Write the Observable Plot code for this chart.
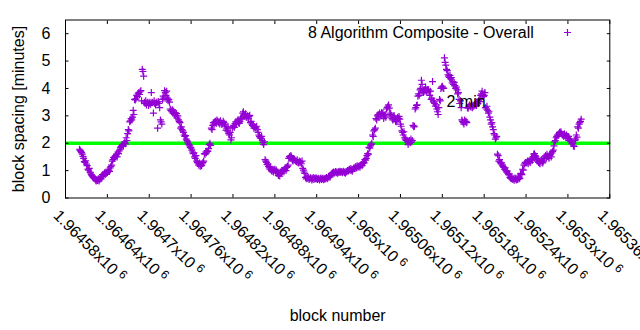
<!DOCTYPE html>
<html>
<head>
<meta charset="utf-8">
<script src="https://cdn.jsdelivr.net/npm/d3@7"></script>
<script src="https://cdn.jsdelivr.net/npm/@observablehq/plot@0.6"></script>
<style>
  html, body { margin: 0; padding: 0; background: white; overflow: hidden; }
</style>
</head>
<body>
<div id="chart"></div>
<script>
// ---- data ----
const seriesName = "8 Algorithm Composite - Overall";
const firstBlock = 1964600; // block number of first sample; one sample per consecutive block
const spacing = [
  1.78,1.74,1.7,1.66,1.6,1.52,1.45,1.33,1.3,1.36,1.24,1.18,1.05,1.02,1.08,0.95,0.92,0.85,0.82,0.78,
  0.75,0.72,0.7,0.66,0.62,0.68,0.64,0.7,0.62,0.67,0.72,0.7,0.78,0.85,0.82,0.88,0.92,0.86,0.95,0.9,
  0.93,0.98,1.02,0.97,1.1,1.15,1.2,1.35,1.4,1.48,1.45,1.52,1.55,1.6,1.5,1.68,1.62,1.72,1.78,1.85,
  1.88,1.92,1.95,1.9,2.0,2.05,1.98,2.2,2.1,2.35,2.5,2.45,2.78,2.82,2.9,2.85,2.95,3.2,3.05,3.6,
  3.58,3.62,3.75,3.7,3.8,3.85,3.78,3.88,3.92,3.55,4.7,4.62,4.45,3.5,3.45,3.55,3.4,3.48,3.5,3.38,
  3.45,3.5,3.42,3.85,3.5,3.48,3.1,3.55,3.45,3.4,3.5,3.48,2.55,3.52,3.45,3.3,2.85,2.78,2.7,3.6,
  3.72,3.65,3.92,3.85,3.75,3.9,3.65,3.55,3.6,3.5,3.25,3.2,3.15,3.22,3.1,3.18,3.05,3.12,3.0,3.08,
  2.92,3.0,2.85,2.8,2.75,2.55,2.6,2.5,2.45,2.4,2.3,2.25,2.28,2.15,2.1,2.05,2.0,1.95,1.9,1.85,
  1.82,1.75,1.68,1.62,1.65,1.5,1.45,1.55,1.35,1.3,1.25,1.2,1.28,1.15,1.22,1.18,1.25,1.3,1.35,1.62,
  1.6,1.68,1.65,1.72,1.7,1.8,1.95,2.0,1.92,2.55,2.5,2.65,2.75,2.7,2.78,2.8,2.72,2.85,2.8,2.75,
  2.78,2.7,2.82,2.75,2.68,2.72,2.8,2.75,2.7,2.62,2.48,2.55,2.45,2.6,2.35,2.3,2.4,2.12,2.2,2.55,
  2.6,2.65,2.58,2.72,2.78,2.7,2.8,2.85,2.75,2.72,2.8,2.9,2.95,2.88,3.1,3.15,3.05,3.0,3.08,2.95,
  2.95,3.0,2.92,2.98,3.02,2.75,2.8,2.7,2.65,2.62,2.55,2.6,2.58,2.55,2.62,2.5,2.4,2.3,2.25,2.2,
  2.18,2.25,2.1,2.02,1.95,2.05,1.4,1.35,1.3,1.22,1.25,1.15,1.1,1.05,1.12,1.0,0.98,1.05,0.95,1.02,
  1.05,0.98,1.02,0.92,0.95,0.82,0.88,0.8,0.95,0.9,1.0,0.97,1.02,0.96,1.05,1.1,1.0,1.12,1.15,1.2,
  1.45,1.52,1.48,1.55,1.5,1.38,1.35,1.42,1.4,1.38,1.35,1.32,1.4,1.3,1.28,1.35,1.3,1.32,1.25,1.35,
  1.08,1.02,0.95,0.9,0.75,0.7,0.78,0.72,0.75,0.68,0.7,0.74,0.72,0.66,0.7,0.75,0.68,0.72,0.7,0.74,
  0.7,0.68,0.72,0.7,0.66,0.7,0.73,0.68,0.7,0.72,0.67,0.7,0.69,0.72,0.75,0.7,0.73,0.78,0.8,0.76,
  0.82,0.88,0.9,0.92,0.95,0.9,0.93,0.97,0.92,0.95,0.9,0.96,0.93,0.98,0.94,0.97,0.95,0.92,0.98,0.96,
  0.93,0.9,0.97,0.95,1.0,0.98,1.02,1.05,1.0,1.08,1.02,0.98,1.05,1.1,1.08,1.12,1.15,1.1,1.18,1.12,
  1.15,1.18,1.12,1.2,1.22,1.18,1.25,1.3,1.28,1.4,1.38,1.45,1.55,1.62,1.6,1.85,1.82,1.9,1.95,2.0,
  2.3,2.25,2.45,2.5,2.55,2.9,2.85,3.0,3.05,2.95,3.1,3.05,3.0,3.12,3.08,3.1,2.9,3.0,3.05,2.95,
  3.25,3.3,3.35,3.4,3.28,3.05,3.1,3.0,2.9,2.85,2.95,3.0,2.92,2.8,2.78,2.85,2.95,2.9,2.98,2.88,
  2.7,2.62,2.45,2.4,2.3,2.42,2.2,2.15,2.1,2.12,2.05,1.95,2.08,2.1,2.02,2.15,2.05,2.1,2.65,2.6,
  2.62,3.25,3.3,3.38,3.4,3.72,3.8,3.75,3.95,4.0,4.3,4.15,3.9,3.85,3.95,3.9,4.05,3.92,3.88,3.95,
  3.95,3.88,3.75,3.9,3.6,3.65,4.25,3.55,3.5,3.45,3.35,3.4,3.25,3.15,3.05,3.3,3.6,3.55,4.0,4.05,
  4.08,4.02,4.0,5.12,4.95,4.85,4.7,4.65,4.5,4.45,4.4,4.48,4.35,4.4,4.2,4.25,4.15,4.22,4.1,4.0,
  4.05,3.95,3.8,3.85,3.6,3.45,3.55,3.3,2.85,2.8,2.75,2.7,2.85,2.78,2.8,2.75,3.3,3.28,3.35,3.4,
  3.35,3.32,3.4,3.3,3.38,3.35,3.42,3.4,3.45,3.38,3.5,3.45,3.55,3.6,3.52,3.75,3.8,3.9,3.78,3.7,
  3.75,3.85,3.3,3.25,3.35,3.2,3.1,3.15,2.95,2.85,2.7,2.75,2.6,2.5,2.35,2.3,2.15,2.2,2.25,1.6,
  1.55,1.35,1.4,1.3,1.25,1.28,1.2,1.15,1.12,1.05,1.1,1.0,0.95,0.98,0.9,0.85,0.88,0.75,0.72,0.7,
  0.72,0.68,0.7,0.65,0.73,0.7,0.66,0.72,0.68,0.75,0.7,0.72,0.88,0.9,0.85,1.05,1.02,1.2,1.25,1.3,
  1.28,1.3,1.35,1.25,1.32,1.35,1.3,1.4,1.45,1.38,1.5,1.6,1.62,1.55,1.5,1.45,1.35,1.4,1.3,1.28,
  1.25,1.35,1.4,1.3,1.28,1.35,1.45,1.5,1.55,1.48,1.6,1.52,1.5,1.45,1.55,1.6,1.5,1.65,1.7,1.75,
  1.9,2.05,2.1,2.2,2.25,2.3,2.28,2.35,2.4,2.38,2.42,2.35,2.3,2.32,2.25,2.35,2.28,2.2,2.3,2.22,
  2.18,2.25,2.1,2.15,2.08,2.05,1.98,2.0,1.9,1.88,2.1,2.15,2.3,2.22,2.6,2.55,2.7,2.75,2.8,2.88
];
const xTicks = [1964580,1964640,1964700,1964760,1964820,1964880,1964940,1965000,1965060,1965120,1965180,1965240,1965300,1965360];
const xTickLabels = ["1.96458","1.96464","1.9647","1.96476","1.96482","1.96488","1.96494","1.965","1.96506","1.96512","1.96518","1.96524","1.9653","1.96536"];
const xTickExponent = "6";
const yTicks = [0,1,2,3,4,5,6];
const refLevel = 2;
const refLabel = "2 min";
const refLabelBlock = 1965126;
const refLabelValue = 3.5;
const xTitle = "block number";
const yTitle = "block spacing [minutes]";

// ---- build ----
const points = spacing.map((v, i) => ({block: firstBlock + i, v}));
const PURPLE = "#9400d3";
const GREEN = "#00ff00";

const plusSymbol = {
  draw(ctx, size) {
    const r = Math.sqrt(size / Math.PI);
    ctx.moveTo(-r, 0); ctx.lineTo(r, 0);
    ctx.moveTo(0, -r); ctx.lineTo(0, r);
  }
};

const TICK = 3.5;
const chart = Plot.plot({
  width: 640,
  height: 330,
  marginLeft: 65,
  marginRight: 30.7,
  marginTop: 19.5,
  marginBottom: 132.5,
  style: {fontFamily: "'Liberation Sans', Arial, sans-serif", fontSize: "16px", background: "white", color: "black"},
  x: {domain: [1964580, 1965360], axis: null},
  y: {domain: [0, 6.5], axis: null},
  marks: [
    Plot.ruleY([refLevel], {stroke: GREEN, strokeWidth: 3.5}),
    Plot.dot(points, {x: "block", y: "v", symbol: plusSymbol, r: 3.5, stroke: PURPLE, fill: "none", strokeWidth: 1.2}),
    Plot.frame({stroke: "black", strokeWidth: 1}),
    // inward ticks on all four sides
    Plot.axisX(xTicks, {anchor: "bottom", tickSize: TICK, dy: -TICK, tickFormat: () => "", stroke: "black", label: null}),
    Plot.axisX(xTicks, {anchor: "top", tickSize: TICK, dy: TICK, tickFormat: () => "", stroke: "black", label: null}),
    Plot.axisY(yTicks, {anchor: "left", tickSize: TICK, dx: TICK, tickFormat: () => "", stroke: "black", label: null}),
    Plot.axisY(yTicks, {anchor: "right", tickSize: TICK, dx: -TICK, tickFormat: () => "", stroke: "black", label: null}),
    // tick labels
    Plot.axisY(yTicks, {anchor: "left", tickSize: 0, tickPadding: 15, tickFormat: d => String(d), fill: "black", label: null}),
    Plot.axisX(xTicks, {anchor: "bottom", tickSize: 0, tickPadding: 10.5, tickRotate: 45, textAnchor: "start", lineAnchor: "top", dx: -5,
      tickFormat: d => xTickLabels[xTicks.indexOf(d)] + "x10", fill: "black", label: null}),
    // axis titles
    Plot.text([yTitle], {frameAnchor: "left", dx: -47, rotate: -90, textAnchor: "middle", lineAnchor: "middle", text: d => d, fill: "black"}),
    Plot.text([xTitle], {frameAnchor: "bottom", dy: 117.5, textAnchor: "middle", lineAnchor: "middle", text: d => d, fill: "black"}),
    // key
    Plot.text([seriesName], {frameAnchor: "top-right", dx: -76, dy: 12.5, textAnchor: "end", lineAnchor: "middle", text: d => d, fill: "black"}),
    Plot.dot([seriesName], {frameAnchor: "top-right", dx: -42.3, dy: 12.5, symbol: plusSymbol, r: 3.5, stroke: PURPLE, fill: "none", strokeWidth: 1.2}),
    // reference label
    Plot.text([{block: refLabelBlock, v: refLabelValue, t: refLabel}], {x: "block", y: "v", text: "t", textAnchor: "start", lineAnchor: "middle", fill: "black"})
  ]
});
document.getElementById("chart").appendChild(chart);

// superscript exponent on x tick labels
const svgNS = "http://www.w3.org/2000/svg";
chart.querySelectorAll('g[aria-label="x-axis tick label"] text').forEach(t => {
  if (!t.textContent) return;
  const sup = document.createElementNS(svgNS, "tspan");
  sup.setAttribute("dx", "4");
  sup.setAttribute("dy", "-5");
  sup.setAttribute("font-size", "12");
  sup.textContent = xTickExponent;
  t.appendChild(sup);
});
</script>
</body>
</html>
